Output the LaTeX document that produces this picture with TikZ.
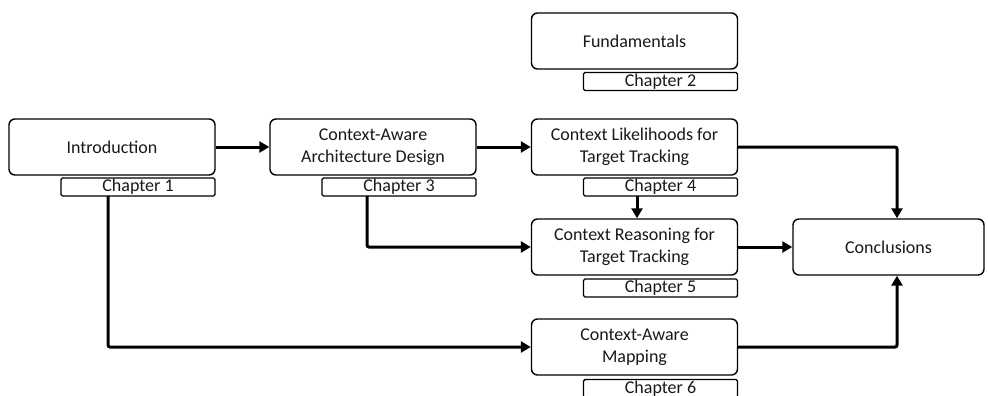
\documentclass[tikz,border=0pt]{standalone}
\usepackage{fontspec}
\setmainfont{Carlito}
\usetikzlibrary{arrows.meta}
\tikzset{
  chapbox/.style={draw=black, line width=1.4pt, rounded corners=6pt, fill=white,
    minimum width=206pt, minimum height=56pt, align=center, inner sep=0pt,
    font=\fontsize{18}{21.5}\selectfont, text=black!90},
  tab/.style={draw=black, line width=1.4pt, rounded corners=1.5pt, fill=white,
    minimum width=154pt, minimum height=18pt, inner sep=0pt,
    font=\fontsize{18}{21.5}\selectfont, text=black!90},
  flow/.style={line width=3pt, -{Triangle[length=10pt,width=11pt]}},
}
\begin{document}
\begin{tikzpicture}[x=1pt,y=-1pt]
\useasboundingbox (0,0) rectangle (988,396);

% main boxes
\node[chapbox] (intro) at (112,147) {Introduction};
\node[chapbox] (arch)  at (373,147) {Context-Aware\\Architecture Design};
\node[chapbox] (fund)  at (634.5,41) {Fundamentals};
\node[chapbox] (like)  at (634.5,147) {Context Likelihoods for\\Target Tracking};
\node[chapbox] (reas)  at (634.5,247) {Context Reasoning for\\Target Tracking};
\node[chapbox] (map)   at (634.5,347) {Context-Aware\\Mapping};
\node[chapbox, minimum width=191pt] (concl) at (888.5,247) {Conclusions};

% chapter tabs
\node[tab] (c1) at (138,187) {Chapter 1};
\node[tab] (c2) at (660.5,81.5) {Chapter 2};
\node[tab] (c3) at (399,187) {Chapter 3};
\node[tab] (c4) at (660.5,187) {Chapter 4};
\node[tab] (c5) at (660.5,288) {Chapter 5};
\node[tab] (c6) at (660.5,388.5) {Chapter 6};

% helper points for the bends
\coordinate (k1) at (897,147);
\coordinate (k2) at (897,347);
\coordinate (c1b) at (108,196);
\coordinate (c3b) at (367,196);
\coordinate (c4b) at (637,196);

% connectors
\draw[flow] (intro.east) -- (arch.west);
\draw[flow] (arch.east) -- (like.west);
\draw[flow, rounded corners=2pt] (like.east) -- (k1) -- (k1 |- concl.north);
\draw[flow] (c4b) -- (c4b |- reas.north);
\draw[flow, rounded corners=2pt] (c3b) -- (c3b |- reas.west) -- (reas.west);
\draw[flow, rounded corners=2pt] (c1b) -- (c1b |- map.west) -- (map.west);
\draw[flow] (reas.east) -- (concl.west);
\draw[flow, rounded corners=2pt] (map.east) -- (k2) -- (k2 |- concl.south);
\end{tikzpicture}
\end{document}
